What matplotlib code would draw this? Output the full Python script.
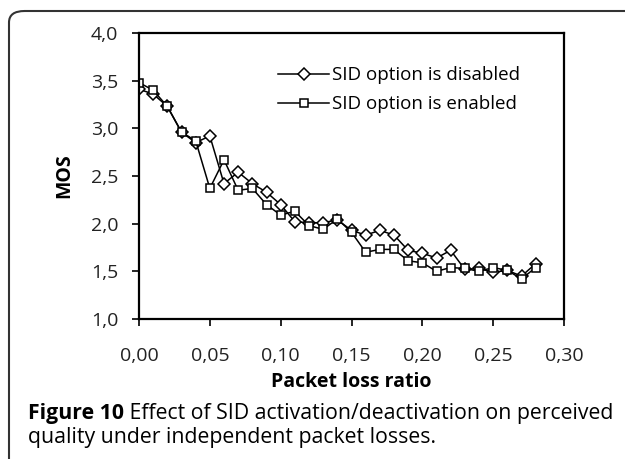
import numpy as np
import matplotlib
matplotlib.use("Agg")
import matplotlib.pyplot as plt
from matplotlib.patches import FancyBboxPatch
from matplotlib.ticker import FuncFormatter

loss = [0.00, 0.01, 0.02, 0.03, 0.04, 0.05, 0.06, 0.07, 0.08, 0.09,
        0.10, 0.11, 0.12, 0.13, 0.14, 0.15, 0.16, 0.17, 0.18, 0.19,
        0.20, 0.21, 0.22, 0.23, 0.24, 0.25, 0.26, 0.27, 0.28]
mos_disabled = [3.41, 3.36, 3.23, 2.96, 2.85, 2.92, 2.42, 2.54, 2.42, 2.33,
                2.20, 2.02, 2.01, 2.01, 2.04, 1.93, 1.88, 1.93, 1.88, 1.72,
                1.69, 1.64, 1.72, 1.52, 1.53, 1.49, 1.51, 1.45, 1.58]
mos_enabled = [3.48, 3.40, 3.23, 2.96, 2.87, 2.37, 2.67, 2.35, 2.37, 2.20,
               2.09, 2.13, 1.98, 1.94, 2.05, 1.91, 1.70, 1.73, 1.73, 1.61,
               1.59, 1.50, 1.54, 1.53, 1.50, 1.54, 1.51, 1.42, 1.54]
xticks = [0.00, 0.05, 0.10, 0.15, 0.20, 0.25, 0.30]
yticks = [1.0, 1.5, 2.0, 2.5, 3.0, 3.5, 4.0]

plt.rcParams['font.family'] = ['Open Sans', 'DejaVu Sans']

W, H = 625, 459
fig = plt.figure(figsize=(W / 100, H / 100), dpi=100)
ax = fig.add_axes([139/W, 1 - 319/H, (564-139)/W, (319-33)/H])

ax.plot(loss, mos_disabled, color='black', lw=1.1, marker='D', ms=6.3,
        mfc='white', mec='black', mew=1.1, label='SID option is disabled')
ax.plot(loss, mos_enabled, color='black', lw=1.1, marker='s', ms=6.0,
        mfc='white', mec='black', mew=1.1, label='SID option is enabled')

ax.set_xlim(0, 0.30)
ax.set_ylim(1.0, 4.0)
ax.set_xticks(xticks)
ax.set_yticks(yticks)
ax.xaxis.set_major_formatter(FuncFormatter(lambda v, p: f"{v:.2f}".replace('.', ',')))
ax.yaxis.set_major_formatter(FuncFormatter(lambda v, p: f"{v:.1f}".replace('.', ',')))
ax.tick_params(direction='out', length=5, width=1.2, labelsize=14,
               color='black', labelcolor='#222222')
ax.tick_params(axis='x', pad=15)
ax.tick_params(axis='y', pad=10)
for s in ax.spines.values():
    s.set_linewidth(1.6)

ax.set_xlabel('Packet loss ratio', fontsize=14, fontweight='bold', labelpad=5)
ax.set_ylabel('MOS', fontsize=14, fontweight='bold', labelpad=12)

ax.legend(loc='upper left', bbox_to_anchor=(0.31, 0.91), frameon=False,
          fontsize=13.5, handlelength=2.7, handletextpad=0.15, labelspacing=0.6,
          borderaxespad=0)

# rounded frame around the figure
frame = FancyBboxPatch((9/W, -0.2), 1.2, 1 - 11/H + 0.2,
                       boxstyle="round,pad=0,rounding_size=0.025",
                       transform=fig.transFigure, fill=False,
                       edgecolor='#333333', lw=1.5, clip_on=False)
fig.patches.append(frame)

cap_size = 15.3
t1 = fig.text(28/W, 1 - 413/H, "Figure 10", fontsize=cap_size, va='center',
              fontweight='bold')
fig.canvas.draw()
bb = t1.get_window_extent()
fig.text(bb.x1 / W, 1 - 413/H,
         " Effect of SID activation/deactivation on perceived",
         fontsize=cap_size, va='center')
fig.text(28/W, 1 - 437/H, "quality under independent packet losses.",
         fontsize=cap_size, va='center')

fig.savefig("out.png", dpi=100)
